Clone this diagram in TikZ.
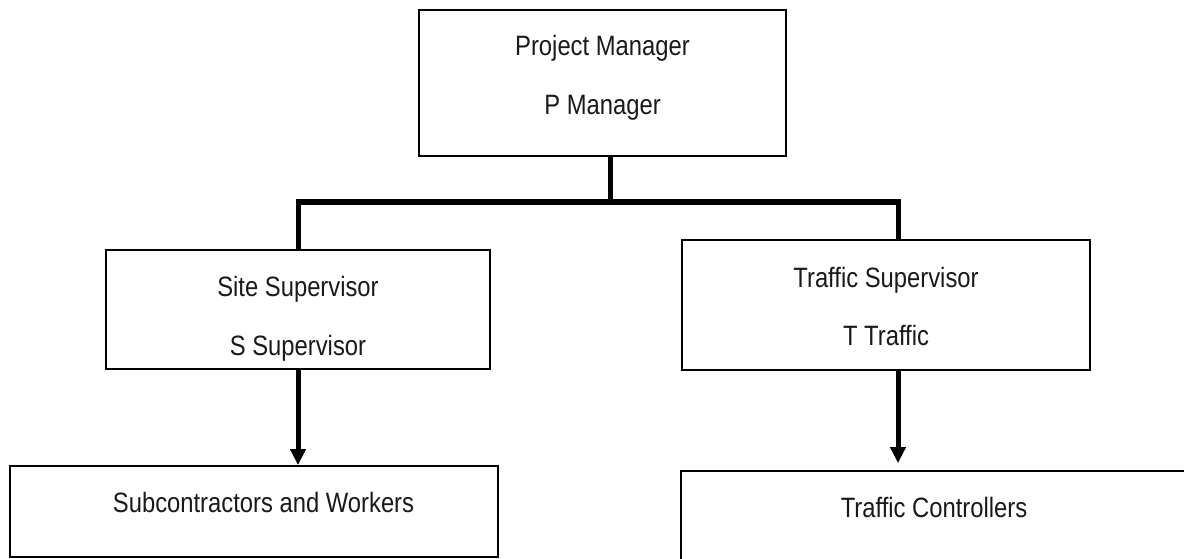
\documentclass[tikz,border=0pt]{standalone}
\usepackage{fontspec}
\setmainfont{Liberation Sans}[FakeStretch=0.85]
\usetikzlibrary{arrows.meta}
\begin{document}
\begin{tikzpicture}[x=1pt,y=-1pt,
  box/.style={draw=black,line width=1.8pt,rectangle,inner sep=0pt,fill=none},
  lbl/.style={anchor=base,inner sep=0pt,font=\fontsize{28}{34}\selectfont,text=black!90},
  conn/.style={draw=black,line width=5pt},
  arr/.style={draw=black,line width=5pt,-{Triangle[width=15pt,length=16pt]}}]
\useasboundingbox (0,0) rectangle (1184,559);
\clip (0,0) rectangle (1184,559);
% boxes
\node[box,minimum width=367pt,minimum height=146pt] (pm) at (602.5,83) {};
\node[box,minimum width=384pt,minimum height=119pt] (ss) at (298,309.5) {};
\node[box,minimum width=408pt,minimum height=130pt] (ts) at (886,305) {};
\node[box,minimum width=488pt,minimum height=91pt] (sw) at (254,511.5) {};
\node[box,minimum width=507pt,minimum height=109pt] (tc) at (934.5,525.5) {};
% texts
\node[lbl] (pmA) at (602.5,56) {Project Manager};
\node[lbl] (pmB) at (602.5,115) {P Manager};
\node[lbl] (ssA) at (298,296) {Site Supervisor};
\node[lbl] (ssB) at (298,355) {S Supervisor};
\node[lbl] (tsA) at (886,287) {Traffic Supervisor};
\node[lbl] (tsB) at (886,345) {T Traffic};
\node[lbl] (swA) at (263.5,512) {Subcontractors and Workers};
\node[lbl] (tcA) at (934,517) {Traffic Controllers};
% connectors
\coordinate (j) at (610,202);
\coordinate (hl) at (298,202);
\coordinate (hr) at (898,202);
\draw[conn] (pm.south -| j) -- (j);
\draw[conn] (ss.north) -- (hl) -- (hr) -- (hr |- ts.north);
\draw[arr] (ss.south) -- (ss.south |- sw.north);
\draw[arr,shorten >=7pt] (hr |- ts.south) -- (hr |- tc.north);
\end{tikzpicture}
\end{document}
